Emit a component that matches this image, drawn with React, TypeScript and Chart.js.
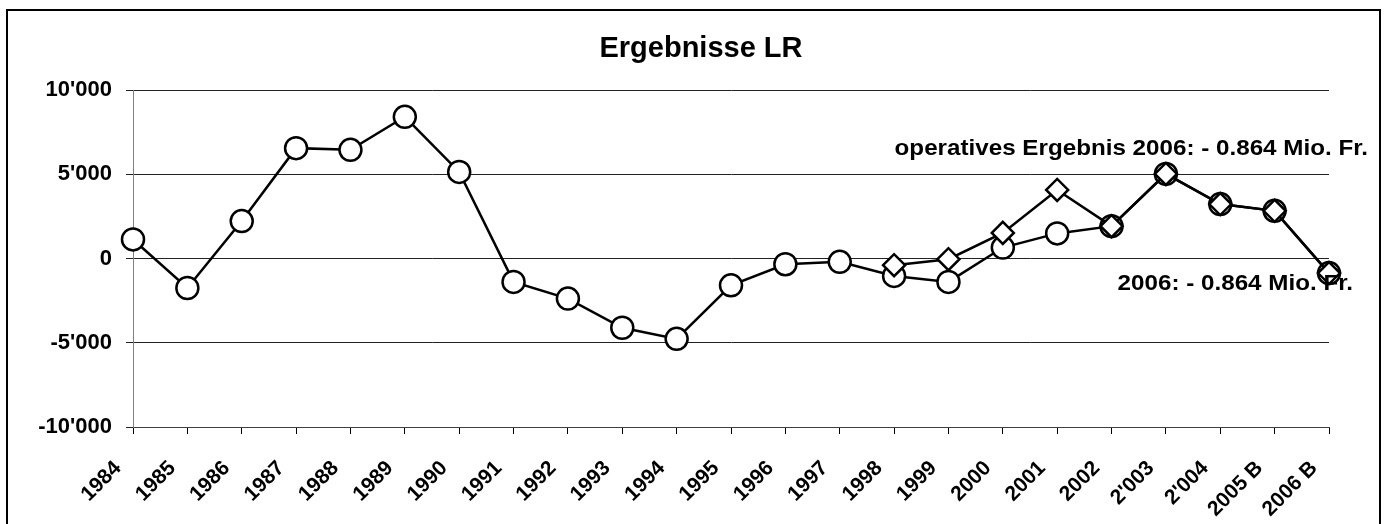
import React, { useEffect, useRef } from "react";
import { Chart, registerables } from "chart.js";

Chart.register(...registerables);

const categories: string[] = [
  "1984", "1985", "1986", "1987", "1988", "1989", "1990", "1991", "1992", "1993",
  "1994", "1995", "1996", "1997", "1998", "1999", "2000", "2001", "2002", "2'003",
  "2'004", "2005 B", "2006 B",
];

// Ergebnis (circles)
const ergebnis: number[] = [
  1130, -1750, 2220, 6550, 6450, 8410, 5140, -1390, -2380, -4110,
  -4770, -1590, -340, -200, -1035, -1390, 650, 1490, 1920, 5020,
  3230, 2830, -864,
];

// operatives Ergebnis (diamonds)
const operativ: (number | null)[] = [
  null, null, null, null, null, null, null, null, null, null,
  null, null, null, null, -400, -40, 1520, 4070, 1920, 5020,
  3230, 2830, -864,
];

const yTicks: number[] = [-10000, -5000, 0, 5000, 10000];

const titleText = "Ergebnisse LR";
const noteTop = "operatives Ergebnis 2006: - 0.864 Mio. Fr.";
const noteBottom = "2006: - 0.864 Mio. Fr.";

const FONT = "'Liberation Sans', Arial, Helvetica, sans-serif";

function fmt(v: number): string {
  const s = Math.abs(v).toString().replace(/\B(?=(\d{3})+(?!\d))/g, "'");
  return (v < 0 ? "-" : "") + s;
}

const decorPlugin = {
  id: "decor",
  afterDraw(chart: any) {
    const ctx = chart.ctx as CanvasRenderingContext2D;
    ctx.save();
    // outer frame
    ctx.strokeStyle = "#000";
    ctx.lineWidth = 2;
    ctx.strokeRect(7, 10, 1373, 700);
    // title
    ctx.fillStyle = "#000";
    ctx.font = `bold 29px ${FONT}`;
    ctx.textAlign = "center";
    ctx.textBaseline = "alphabetic";
    ctx.fillText(titleText, 701, 57);
    // annotations (slightly widened like the original)
    ctx.font = `bold 22px ${FONT}`;
    ctx.textAlign = "right";
    ctx.save();
    ctx.translate(1368, 155);
    ctx.scale(1.1, 1);
    ctx.fillText(noteTop, 0, 0);
    ctx.restore();
    ctx.save();
    ctx.translate(1353, 290);
    ctx.scale(1.1, 1);
    ctx.fillText(noteBottom, 0, 0);
    ctx.restore();
    ctx.restore();
  },
};

export default function App() {
  const ref = useRef<HTMLCanvasElement | null>(null);

  useEffect(() => {
    document.body.style.margin = "0";
    const canvas = ref.current;
    if (!canvas) return;
    const chart = new Chart(canvas, {
      type: "line",
      data: {
        labels: categories,
        datasets: [
          {
            label: "operatives Ergebnis",
            data: operativ,
            order: 0,
            borderColor: "#000",
            borderWidth: 2.5,
            pointStyle: "rectRot",
            pointRadius: 11,
            pointBorderWidth: 2.5,
            pointBackgroundColor: "#fff",
            pointBorderColor: "#000",
            tension: 0,
            clip: false as any,
            spanGaps: false,
          },
          {
            label: "Ergebnis",
            data: ergebnis,
            order: 1,
            borderColor: "#000",
            borderWidth: 2.5,
            pointStyle: "circle",
            pointRadius: 11,
            pointBorderWidth: 2.5,
            pointBackgroundColor: "#fff",
            pointBorderColor: "#000",
            tension: 0,
            clip: false as any,
          },
        ],
      },
      options: {
        animation: false,
        responsive: false,
        events: [],
        layout: { padding: { top: 90, right: 55, left: 0, bottom: 0 } },
        plugins: {
          legend: { display: false },
          tooltip: { enabled: false },
          title: { display: false },
        },
        scales: {
          x: {
            type: "category",
            offset: false,
            grid: {
              display: true,
              drawOnChartArea: false,
              drawTicks: true,
              tickLength: 7,
              color: "#000",
            },
            border: { display: true, color: "#404040", width: 1 },
            ticks: {
              autoSkip: false,
              maxRotation: 45,
              minRotation: 45,
              padding: 22,
              labelOffset: -15,
              color: "#000",
              font: { family: FONT, size: 21, weight: "bold" },
            },
            afterFit: (scale: any) => {
              scale.height = 97;
            },
          },
          y: {
            type: "linear",
            min: -10000,
            max: 10000,
            afterBuildTicks: (scale: any) => {
              scale.ticks = yTicks.map((v) => ({ value: v }));
            },
            grid: {
              color: "#222",
              lineWidth: 1,
              drawTicks: true,
              tickLength: 7,
            },
            border: { display: true, color: "#808080", width: 1 },
            ticks: {
              padding: 14,
              color: "#000",
              font: { family: FONT, size: 22, weight: "bold" },
              callback: (v: any) => fmt(Number(v)),
            },
            afterFit: (scale: any) => {
              scale.width = 133;
            },
          },
        },
      },
      plugins: [decorPlugin],
    });
    return () => chart.destroy();
  }, []);

  return (
    <div style={{ width: 1384, height: 524, position: "relative", overflow: "hidden" }}>
      <canvas ref={ref} width={1384} height={524} style={{ display: "block" }} />
    </div>
  );
}
